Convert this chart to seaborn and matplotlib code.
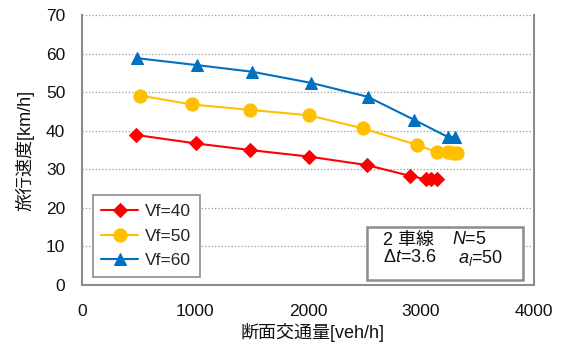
import numpy as np
import pandas as pd
import matplotlib
matplotlib.use("Agg")
import matplotlib.pyplot as plt
from matplotlib.patches import Rectangle
import seaborn as sns

flow_40 = [478, 1009, 1484, 2006, 2519, 2903, 3041, 3085, 3139]
speed_40 = [38.9, 36.7, 35.0, 33.3, 31.1, 28.3, 27.4, 27.4, 27.4]
flow_50 = [516, 973, 1490, 2006, 2487, 2967, 3144, 3242, 3280, 3320]
speed_50 = [49.1, 46.8, 45.4, 44.0, 40.6, 36.3, 34.4, 34.6, 34.2, 34.1]
flow_60 = [489, 1020, 1504, 2027, 2528, 2941, 3236, 3301]
speed_60 = [58.8, 57.0, 55.3, 52.4, 48.8, 42.8, 38.4, 38.4]

labels = ["Vf=40", "Vf=50", "Vf=60"]
x_ticks = [0, 1000, 2000, 3000, 4000]
y_ticks = [0, 10, 20, 30, 40, 50, 60, 70]

sns.set_style("white")
plt.rcParams['font.family'] = ['Liberation Sans', 'Noto Sans CJK JP', 'DejaVu Sans']
plt.rcParams['mathtext.fontset'] = 'custom'
plt.rcParams['mathtext.rm'] = 'Liberation Sans'
plt.rcParams['mathtext.it'] = 'Liberation Sans:italic'

gray = '#8c8c8c'
fs = 12.5

fig = plt.figure(figsize=(5.63, 3.42), dpi=100)
ax = fig.add_axes([82 / 563, 1 - 285 / 342, 452 / 563, 270 / 342])

series = [
    (flow_40, speed_40, labels[0], '#ff0000', 'D', 7),
    (flow_50, speed_50, labels[1], '#ffc000', 'o', 9.5),
    (flow_60, speed_60, labels[2], '#0070c0', '^', 9),
]
for fx, sy, lab, col, mk, ms in series:
    df = pd.DataFrame({'flow': fx, 'speed': sy})
    sns.lineplot(data=df, x='flow', y='speed', ax=ax, color=col, marker=mk,
                 markersize=ms, markeredgecolor=col, linewidth=1.5,
                 sort=False, estimator=None, label=lab)

ax.set_xlim(0, 4000)
ax.set_ylim(0, 70)
ax.set_xticks(x_ticks)
ax.set_yticks(y_ticks)
ax.yaxis.grid(True, color='#9a9a9a', linestyle=':', linewidth=0.9)
ax.set_axisbelow(True)

for side in ['left', 'bottom', 'right']:
    ax.spines[side].set_color(gray)
    ax.spines[side].set_linewidth(1.5)
ax.spines['top'].set_visible(False)

ax.tick_params(axis='both', direction='inout', length=8, width=1.2, color=gray,
               labelsize=fs, labelcolor='#111111')
ax.tick_params(axis='x', pad=10)
ax.tick_params(axis='y', pad=8)

ax.set_xlabel('断面交通量[veh/h]', fontsize=fs + 0.5, color='#111111')
ax.set_ylabel('旅行速度[km/h]', fontsize=fs + 0.5, color='#111111')
ax.xaxis.set_label_coords(0.51, -0.14)
ax.yaxis.set_label_coords(-0.105, 0.5)

leg = ax.legend(loc='lower left', bbox_to_anchor=(0.0237, 0.0296),
                borderaxespad=0, fancybox=False, framealpha=1,
                edgecolor=gray, fontsize=fs, handlelength=2.1,
                labelspacing=0.55, borderpad=0.5, handletextpad=0.4)
leg.get_frame().set_linewidth(1.2)

ax.add_patch(Rectangle((0.63, 0.0185), 0.345, 0.1975, transform=ax.transAxes,
                       facecolor='white', edgecolor=gray, linewidth=1.8, zorder=5))
kw = dict(transform=ax.transAxes, fontsize=fs + 0.5, va='center', ha='left',
          color='#111111', zorder=6)
ax.text(0.666, 0.1667, '2 車線', **kw)
ax.text(0.818, 0.1667, '$N$=5', **kw)
ax.text(0.666, 0.10, r'$\mathit{\Delta t}$=3.6', **kw)
ax.text(0.832, 0.10, '$a_l$=50', **kw)

fig.savefig('out.png', dpi=100)
